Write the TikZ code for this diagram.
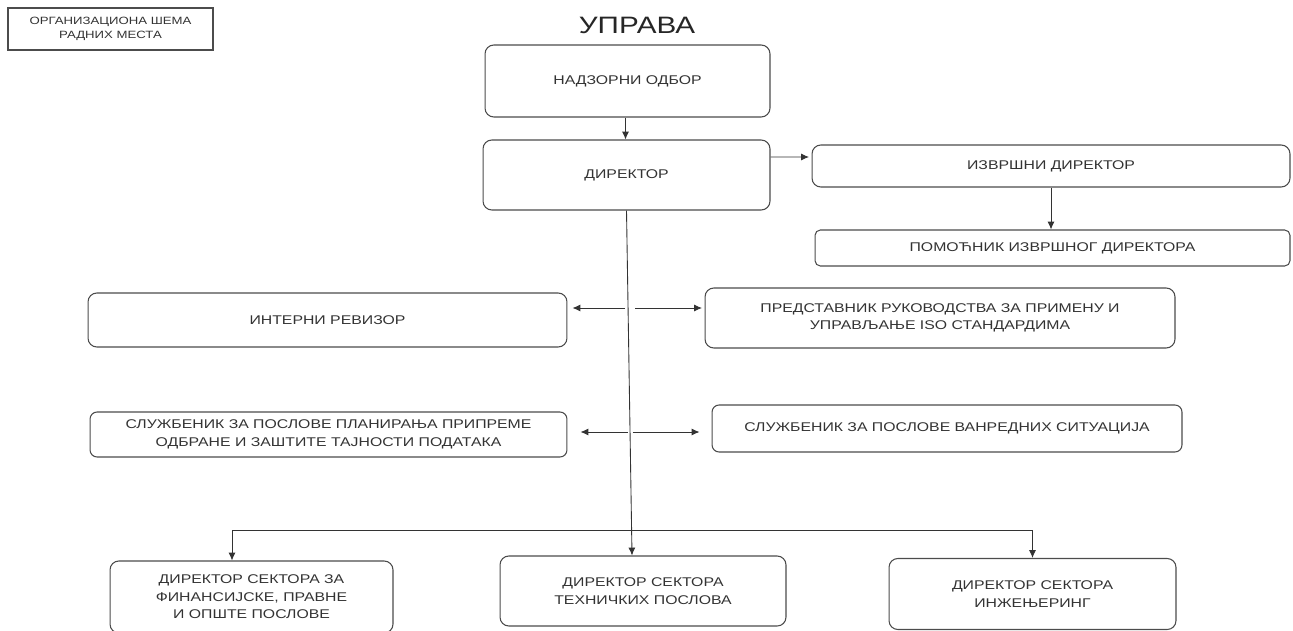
\documentclass[tikz,border=0pt]{standalone}
\usepackage{fontspec}
\setmainfont{Liberation Sans}[FakeStretch=1.25]
\usetikzlibrary{arrows.meta}

\tikzset{
    box/.style={draw=black!70,line width=0.6pt,rounded corners=5pt,align=center,
        text=black!80,inner sep=0pt,font=\fontsize{7.2}{10}\selectfont},
    arr/.style={-{Latex[length=4.5pt,width=4pt]},line width=0.5pt,draw=black!80}
}

\begin{document}
\begin{tikzpicture}[x=0.02cm,y=-0.02cm]
            \useasboundingbox (0,0) rectangle (1293,631);

            \node (legend) at (110.5,29) [box,rounded corners=0pt,minimum width=4.1cm,minimum height=0.84cm,font=\fontsize{6}{8}\selectfont] {ОРГАНИЗАЦИОНА ШЕМА\\РАДНИХ МЕСТА};
            \node (title) at (637,25) [text=black!85,font=\fontsize{13.5}{16}\selectfont] {УПРАВА};

            \node (nadzor) at (627.5,81) [box,minimum width=5.7cm,minimum height=1.44cm] {НАДЗОРНИ ОДБОР};
            \node (direktor) at (626.5,175) [box,minimum width=5.74cm,minimum height=1.4cm] {ДИРЕКТОР};
            \node (izvrsni) at (1051,166) [box,minimum width=9.56cm,minimum height=0.84cm] {ИЗВРШНИ ДИРЕКТОР};
            \node (pomocnik) at (1052.5,248) [box,rounded corners=3pt,minimum width=9.5cm,minimum height=0.72cm] {ПОМОЋНИК ИЗВРШНОГ ДИРЕКТОРА};

            \node (revizor) at (327.5,320) [box,minimum width=9.58cm,minimum height=1.08cm] {ИНТЕРНИ РЕВИЗОР};
            \node (iso) at (940,318) [box,minimum width=9.4cm,minimum height=1.2cm] {ПРЕДСТАВНИК РУКОВОДСТВА ЗА ПРИМЕНУ И\\УПРАВЉАЊЕ ISO СТАНДАРДИМА};
            \node (planiranje) at (328.5,434.5) [box,rounded corners=4pt,minimum width=9.54cm,minimum height=0.9cm] {СЛУЖБЕНИК ЗА ПОСЛОВЕ ПЛАНИРАЊА ПРИПРЕМЕ\\ОДБРАНЕ И ЗАШТИТЕ ТАЈНОСТИ ПОДАТАКА};
            \node (vanredne) at (947,428.5) [box,rounded corners=4pt,minimum width=9.4cm,minimum height=0.94cm] {СЛУЖБЕНИК ЗА ПОСЛОВЕ ВАНРЕДНИХ СИТУАЦИЈА};

            \node (finansije) at (251.5,597) [box,minimum width=5.66cm,minimum height=1.44cm] {ДИРЕКТОР СЕКТОРА ЗА\\ФИНАНСИЈСКЕ, ПРАВНЕ\\И ОПШТЕ ПОСЛОВЕ};
            \node (tehnicki) at (643,591) [box,minimum width=5.72cm,minimum height=1.4cm] {ДИРЕКТОР СЕКТОРА\\ТЕХНИЧКИХ ПОСЛОВА};
            \node (inzenjering) at (1032.5,594) [box,minimum width=5.74cm,minimum height=1.42cm] {ДИРЕКТОР СЕКТОРА\\ИНЖЕЊЕРИНГ};

            \coordinate (j1) at (630,308);
            \coordinate (j2) at (630,432);
            \coordinate (bus) at (632,530);

            \draw [arr] ([xshift=-0.4mm]nadzor.south) -- ([xshift=-0.4mm]nadzor.south |- direktor.north);
            \draw [arr] ([yshift=3.6mm]direktor.east) -- ([yshift=1.8mm,xshift=-0.5mm]izvrsni.west);
            \draw [arr] (izvrsni.south) -- (izvrsni.south |- pomocnik.north);
            \draw [arr] (direktor.south) -- ([xshift=-2.2mm]tehnicki.north);

            \draw [arr,shorten <=1mm,shorten >=1mm] (j1) -- (revizor.east |- j1);
            \draw [arr,shorten <=1mm,shorten >=0.5mm] (j1) -- (iso.west |- j1);
            \draw [arr,shorten <=0.5mm,shorten >=2.6mm] (j2) -- (planiranje.east |- j2);
            \draw [arr,shorten <=0.5mm,shorten >=2.4mm] (j2) -- (vanredne.west |- j2);

            \draw [arr] (bus) -| ([xshift=-3.9mm]finansije.north);
            \draw [arr] (bus) -| (inzenjering.north);
        \end{tikzpicture}
\end{document}
